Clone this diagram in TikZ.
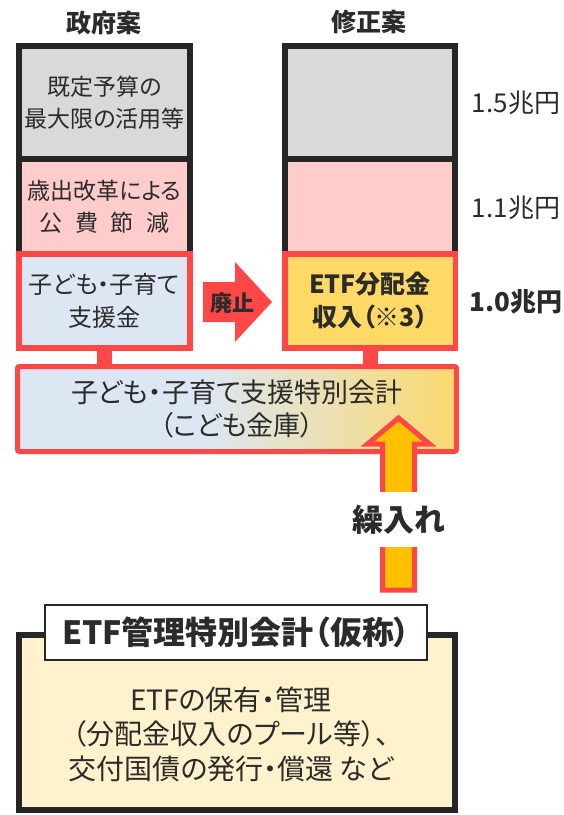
\documentclass[tikz,border=0pt]{standalone}
\usepackage{fontspec}
\setmainfont{Noto Sans CJK JP}[RawFeature=+palt]
\usetikzlibrary{calc}
\definecolor{dk}{HTML}{262626}
\definecolor{tx}{HTML}{2B2B2B}
\definecolor{gr}{HTML}{D9D9D9}
\definecolor{pk}{HTML}{FFCCCC}
\definecolor{lb}{HTML}{DDE7F3}
\definecolor{yl}{HTML}{FFD966}
\definecolor{ylbar}{HTML}{FBD970}
\definecolor{rd}{HTML}{FF4747}
\definecolor{org}{HTML}{FFC000}
\definecolor{cream}{HTML}{FFF2CC}
\pgfdeclarehorizontalshading{barshade}{100bp}{color(0bp)=(lb); color(46bp)=(lb); color(75bp)=(ylbar); color(100bp)=(ylbar)}
\tikzset{
  colbox/.style={draw=dk, line width=6pt, minimum width=171pt, align=center, inner sep=0pt, text=tx,
    font=\fontsize{23pt}{32pt}\selectfont},
  redbox/.style={draw=rd, line width=5.5pt, minimum width=171pt, minimum height=94pt, align=center, inner sep=0pt, text=tx,
    font=\fontsize{24pt}{33pt}\selectfont},
  hdr/.style={text=tx, inner sep=0pt, font=\fontsize{25pt}{30pt}\selectfont\bfseries},
  amt/.style={text=tx, inner sep=0pt, font=\fontsize{26pt}{30pt}\selectfont},
  link/.style={draw=rd, line width=15pt},
}
\begin{document}
\begin{tikzpicture}[x=1pt,y=-1pt]
\useasboundingbox (0,0) rectangle (564,815);
% headers
\node[hdr] (h1) at (104,23) {政府案};
\node[hdr] (h2) at (369,22) {修正案};
% left column
\node[colbox, fill=gr, minimum height=113pt] (lg) at (104.5,102.5) {既定予算の\\最大限の活用等};
\node[colbox, fill=pk, minimum height=95pt] (lp) at (104.5,206.5) {歳出改革による\\公\hspace{0.55em}費\hspace{0.55em}節\hspace{0.55em}減};
\node[redbox, fill=lb] (lr) at (104.5,301) {子ども・子育て\\支援金};
% right column
\node[colbox, fill=gr, minimum height=113pt, minimum width=170.5pt] (rg) at (370,102.5) {};
\node[colbox, fill=pk, minimum height=95pt, minimum width=170.5pt] (rp) at (370,206.5) {};
\node[redbox, fill=yl, minimum width=170.5pt, font=\fontsize{25pt}{33pt}\selectfont\bfseries] (rr) at (370,301) {ETF分配金\\収入（※3）};
% amounts
\node[amt] (a1) at (516,103) {1.5兆円};
\node[amt] (a2) at (516,208) {1.1兆円};
\node[amt, font=\fontsize{26pt}{30pt}\selectfont\bfseries] (a3) at (516,302) {1.0兆円};
% abolish arrow
\fill[rd] (203,282) -- (235,282) -- (235,262) -- (272,302) -- (235,342) -- (235,322) -- (203,322) -- cycle;
\node[text=tx, inner sep=0pt, font=\fontsize{22pt}{26pt}\selectfont\bfseries] (haishi) at (232,303) {廃止};
% bar
\node[draw=rd, line width=5pt, shading=barshade, rounded corners=2pt, minimum width=439pt, minimum height=85pt,
  align=center, inner sep=0pt, text=tx, font=\fontsize{27pt}{33pt}\selectfont] (bar) at (237,409)
  {子ども・子育て支援特別会計\\（こども金庫）};
\draw[link] (lr.south) -- (lr.south |- bar.north);
\draw[link] (rr.south) -- (rr.south |- bar.north);
% transfer arrow
\coordinate (abot) at (398.5,590);
\draw[draw=rd, fill=org, line width=5pt, line join=miter]
  ($(abot)+(-16,0)$) -- (382.5,444) -- (367.5,444) -- (398.5,418) -- (429.5,444) -- (414.5,444) -- ($(abot)+(16,0)$) -- cycle;
\node[fill=white, text=tx, inner sep=0pt, minimum height=55pt, font=\fontsize{31pt}{36pt}\selectfont\bfseries] (kuri) at (398.5,519.5) {繰入れ};
% ETF special account
\node[draw=dk, line width=6pt, fill=cream, minimum width=436pt, minimum height=175pt] (eb) at (237,722.5) {};
\node[draw=dk, line width=1.5pt, fill=white, minimum width=382pt, minimum height=55pt, inner sep=0pt, text=tx,
  font=\fontsize{32pt}{36pt}\selectfont\bfseries] (et) at (236,632.5) {ETF管理特別会計（仮称）};
\node[align=center, inner sep=0pt, text=tx, font=\fontsize{28pt}{34.5pt}\selectfont] (ebody) at (231,734)
  {ETFの保有・管理\\（分配金収入のプール等）、\\交付国債の発行・償還 など};
\end{tikzpicture}
\end{document}
